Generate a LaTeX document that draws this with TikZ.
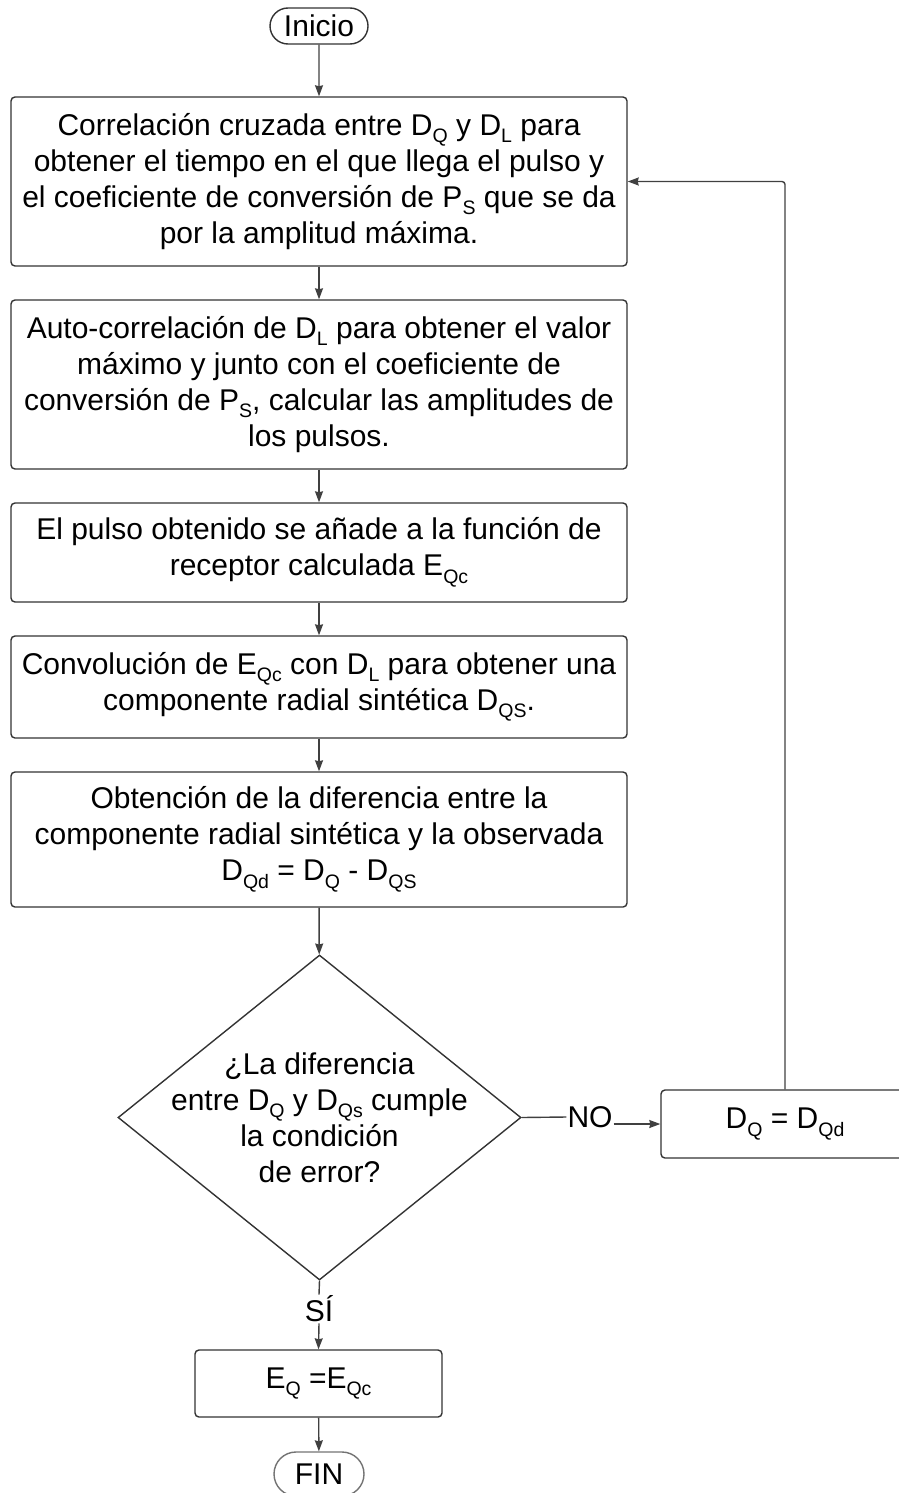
\documentclass[tikz,border=0pt]{standalone}
\usepackage{fontspec}
\setmainfont{Liberation Sans}
\usetikzlibrary{shapes.geometric,shapes.misc,arrows.meta}
\newcommand{\sbs}[1]{\raisebox{-0.25em}{\fontsize{19.5}{19.5}\selectfont #1}}
\begin{document}
\begin{tikzpicture}[x=1pt,y=-1pt,
  every node/.style={font=\fontsize{30}{36}\selectfont, text=black},
  procbox/.style={draw=black!80, line width=1.4pt, rounded corners=4pt, align=center, inner sep=0pt},
  term/.style={draw=black!80, line width=1.4pt, rounded rectangle, inner sep=0pt},
  conn/.style={draw=black!75, line width=1.4pt},
  arr/.style={conn, -{Stealth[length=11pt,width=8pt,inset=1pt]}}]
\useasboundingbox (0,0) rectangle (898,1493);
\node[term, minimum width=98pt, minimum height=36pt] (ini) at (319,26) {Inicio};
\node[procbox, minimum width=616pt, minimum height=169pt] (b1) at (319,181.5)
 {Correlación cruzada entre D\sbs{Q} y D\sbs{L} para\\obtener el tiempo en el que llega el pulso y\\el coeficiente de conversión de P\sbs{S} que se da\\por la amplitud máxima.};
\node[procbox, minimum width=616pt, minimum height=169pt] (b2) at (319,384.5)
 {Auto-correlación de D\sbs{L} para obtener el valor\\máximo y junto con el coeficiente de\\conversión de P\sbs{S}, calcular las amplitudes de\\los pulsos.};
\node[procbox, minimum width=616pt, minimum height=99pt] (b3) at (319,552.5)
 {El pulso obtenido se añade a la función de\\receptor calculada E\sbs{Qc}};
\node[procbox, minimum width=616pt, minimum height=102pt] (b4) at (319,687)
 {Convolución de E\sbs{Qc} con D\sbs{L} para obtener una\\componente radial sintética D\sbs{QS}.};
\node[procbox, minimum width=616pt, minimum height=135pt] (b5) at (319,839.5)
 {Obtención de la diferencia entre la\\componente radial sintética y la observada\\D\sbs{Qd} = D\sbs{Q} - D\sbs{QS}};
\node[draw=black!80, line width=1.4pt, diamond, minimum width=403pt, minimum height=325pt, inner sep=0pt] (d) at (319.5,1117.5) {};
\node[align=center] (dt) at (d.center) {¿La diferencia\\entre D\sbs{Q} y D\sbs{Qs} cumple\\la condición\\de error?};
\node[inner sep=1pt] (no) at (590,1117) {NO};
\node[procbox, minimum width=248pt, minimum height=68pt] (dq) at (785,1124) {D\sbs{Q} = D\sbs{Qd}};
\node[inner sep=1pt] (si) at (319,1309) {SÍ};
\node[procbox, minimum width=247pt, minimum height=67pt] (eq) at (318.5,1383.5) {E\sbs{Q} =E\sbs{Qc}};
\node[term, draw=black!55, minimum width=90pt, minimum height=44pt] (fin) at (319,1474) {FIN};
\draw[arr] (ini) -- (b1);
\draw[arr] (b1) -- (b2);
\draw[arr] (b2) -- (b3);
\draw[arr] (b3) -- (b4);
\draw[arr] (b4) -- (b5);
\draw[arr] (b5) -- (d);
\draw[conn] (d.east) -- (no.west);
\draw[arr] (no.east |- dq.west) -- (dq.west);
\draw[arr, rounded corners=3pt] (dq.north) |- (b1.east);
\draw[conn] (d.south) -- (si.north);
\draw[arr] (si.south) -- (eq.north);
\draw[arr] (eq) -- (fin);
\end{tikzpicture}
\end{document}
